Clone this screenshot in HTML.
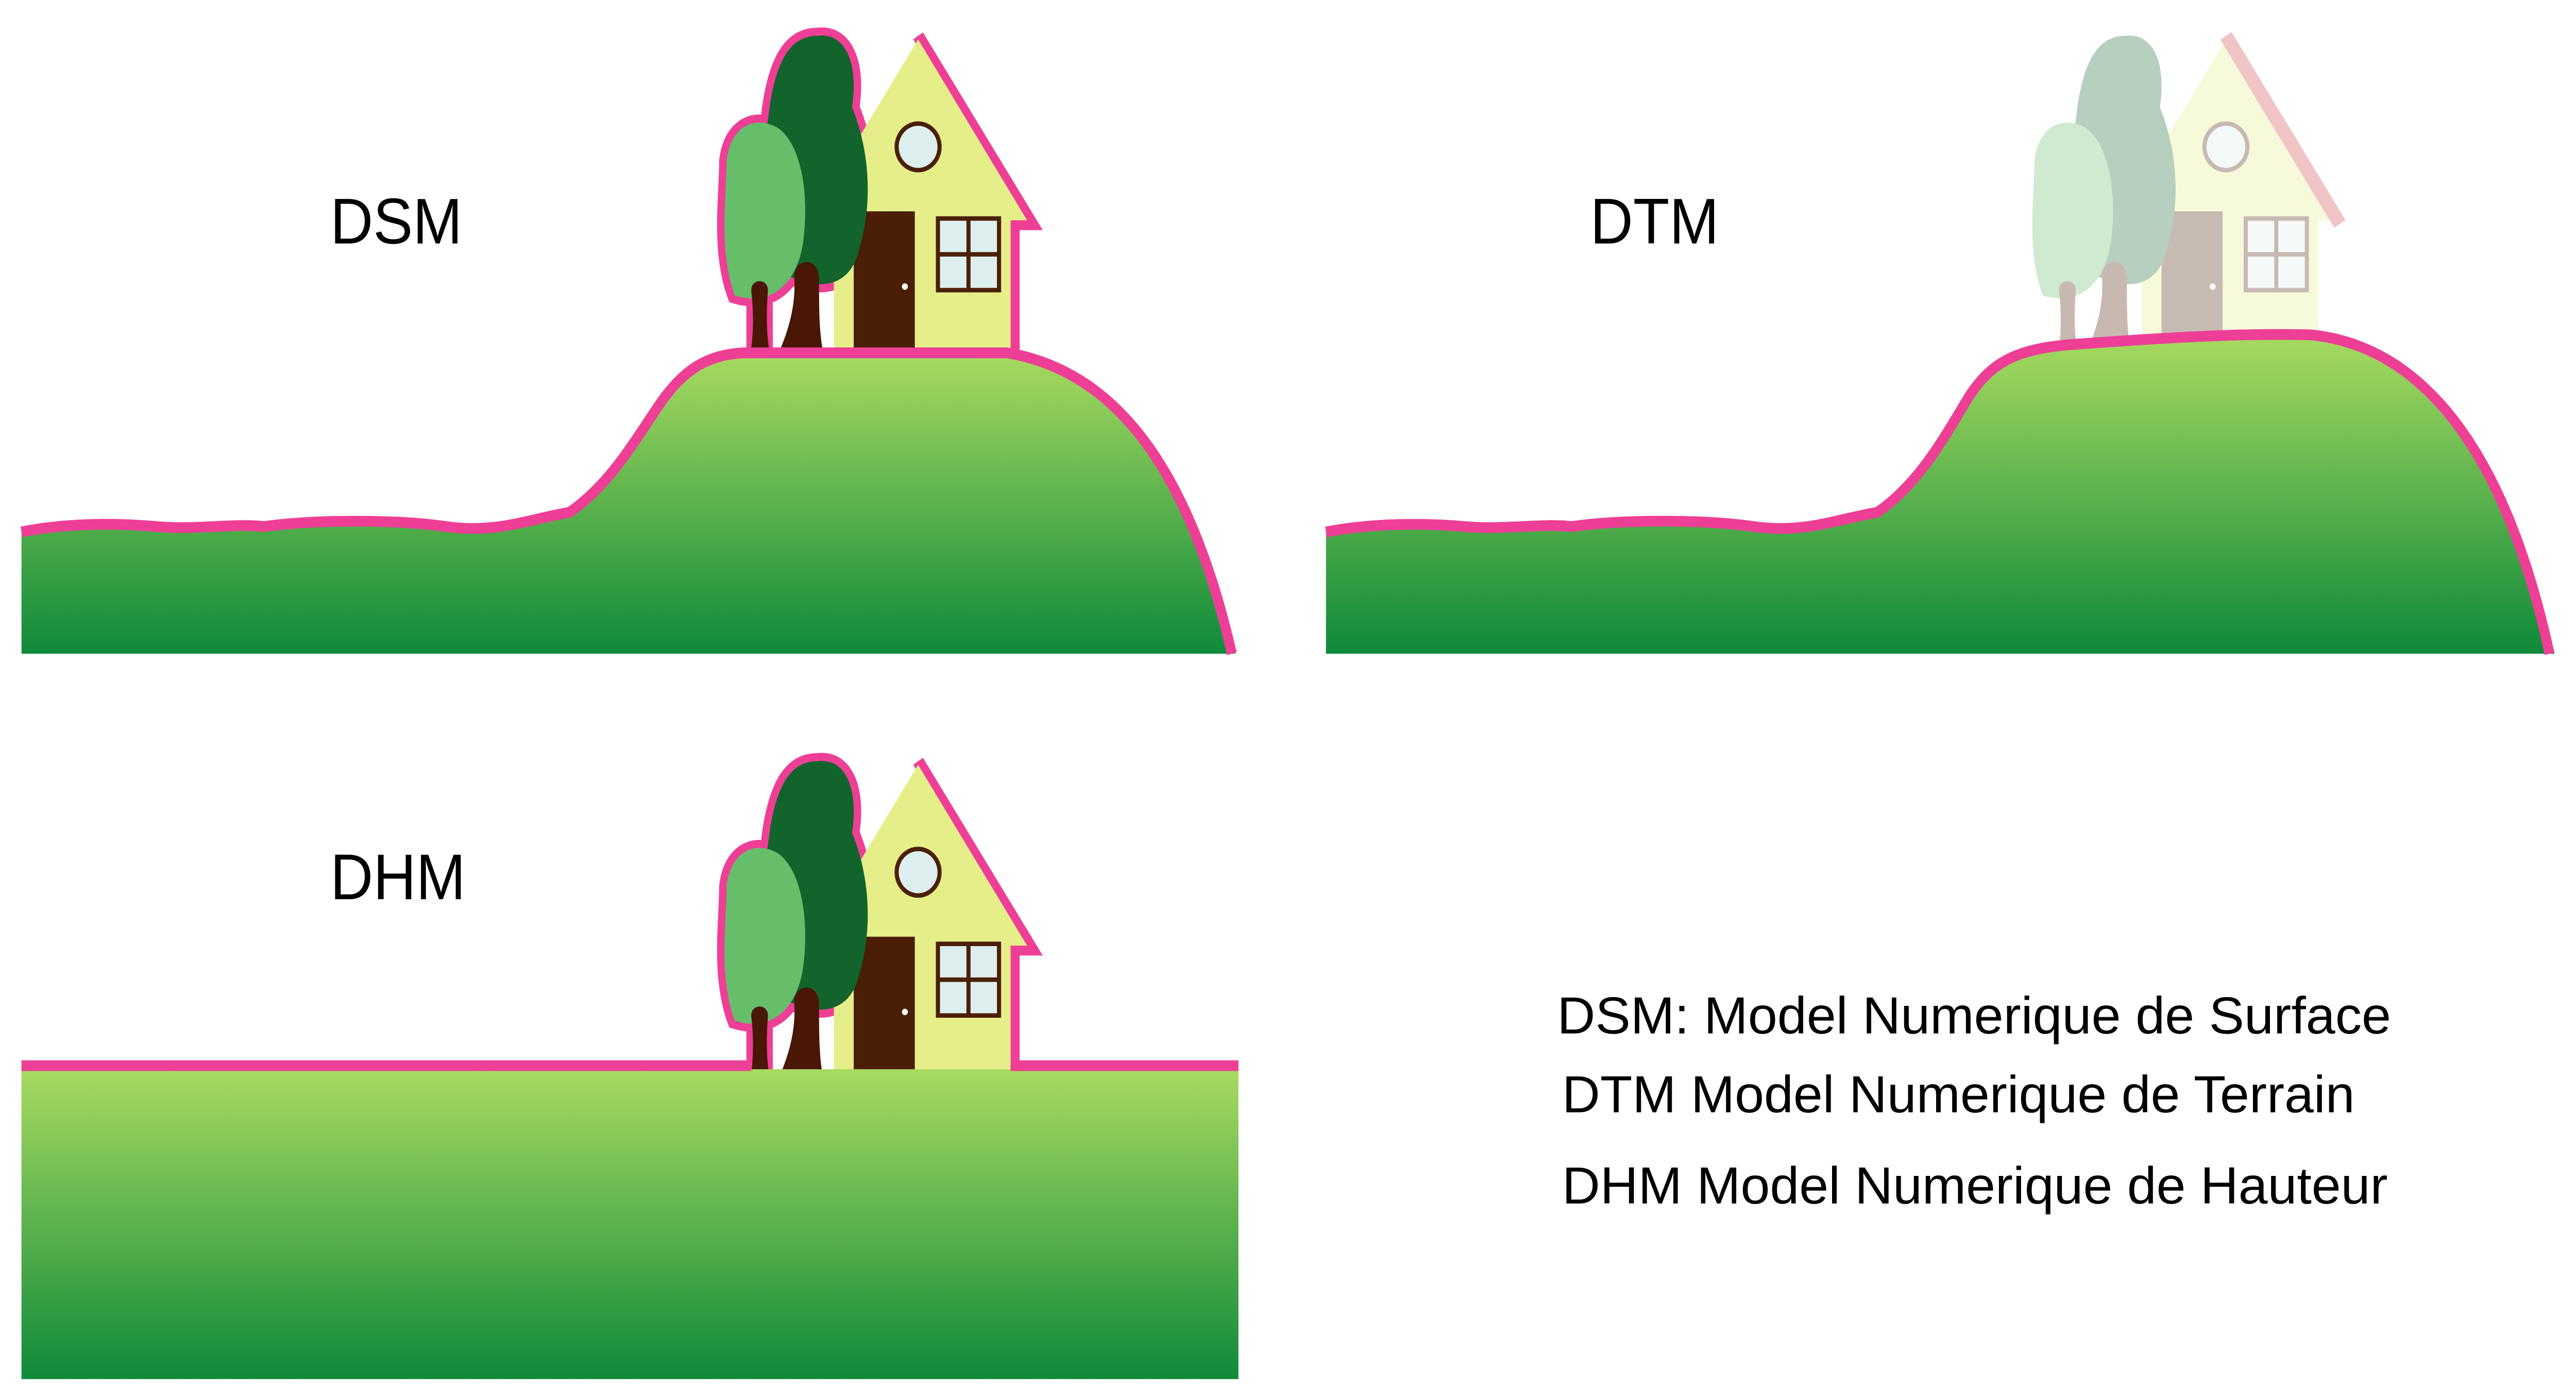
<!DOCTYPE html>
<html><head><meta charset="utf-8"><style>
html,body{margin:0;padding:0;background:#fff;overflow:hidden;width:100%;height:100%;}
svg{display:block;width:100vw;height:100vh;}
text{font-family:"Liberation Sans",sans-serif;fill:#000;}
</style></head><body>
<svg viewBox="0 0 1560 780" preserveAspectRatio="none" xmlns="http://www.w3.org/2000/svg" xmlns:xlink="http://www.w3.org/1999/xlink">
<defs>
<linearGradient id="g1" x1="0" y1="0" x2="0" y2="1">
<stop offset="0" stop-color="#a8da60"/><stop offset="1" stop-color="#0f8a3a"/></linearGradient>
<linearGradient id="g2" x1="0" y1="0" x2="0" y2="1">
<stop offset="0" stop-color="#a8da60"/><stop offset="1" stop-color="#0f8a3a"/></linearGradient>
<g id="outline">
<path d="M470,150 C455,120 462,90 466,60 C470,35 478,20 495,20 C512,18 520,35 516,60 C525,80 530,110 520,140 C515,160 495,165 470,150Z" fill="#ee3f96" stroke="#ee3f96" stroke-width="9"/>
<path d="M445,165 C435,140 440,110 440,90 C442,72 455,65 468,70 C482,75 490,100 487,130 C485,155 470,172 445,165Z" fill="#ee3f96" stroke="#ee3f96" stroke-width="9"/>
<path d="M556,20 L625,125 L614,125 L614,196" fill="none" stroke="#ee3f96" stroke-width="7"/>
<rect x="452" y="160" width="16" height="40" fill="#ee3f96"/>
</g>
<g id="house">
<path d="M556,22 L622,123 L612,123 L612,196 L505,196 L505,100 Z" fill="#e6ee8a"/>
<rect x="517" y="118" width="37" height="78" fill="#4a1f05"/>
<circle cx="548" cy="160" r="1.8" fill="#fff"/>
<circle cx="556" cy="82" r="13" fill="#dceeee" stroke="#4a1f05" stroke-width="2.5"/>
<rect x="568" y="122" width="37" height="40" fill="#dceeee" stroke="#4a1f05" stroke-width="2.5"/>
<line x1="586.5" y1="122" x2="586.5" y2="162" stroke="#4a1f05" stroke-width="2.5"/>
<line x1="568" y1="142" x2="605" y2="142" stroke="#4a1f05" stroke-width="2.5"/>
</g>
<g id="trees">
<path d="M470,150 C455,120 462,90 466,60 C470,35 478,20 495,20 C512,18 520,35 516,60 C525,80 530,110 520,140 C515,160 495,165 470,150Z" fill="#12642c"/>
<path d="M445,165 C435,140 440,110 440,90 C442,72 455,65 468,70 C482,75 490,100 487,130 C485,155 470,172 445,165Z" fill="#66bd6a"/>
<path d="M469,202 C478,185 482,170 481,155 C480,145 495,142 496,155 C496,175 496,190 500,202 Z" fill="#4a1605"/>
<path d="M454,200 C457,185 456,170 455,163 C454,155 466,155 465,163 C464,175 464,190 467,200 Z" fill="#4a1605"/>
</g>
</defs>

<g>
<use xlink:href="#outline"/>
<use xlink:href="#house"/>
<use xlink:href="#trees"/>
<path d="M13,297 C40,292 70,292 95,294 C120,296 140,292 160,294 C190,290 240,290 270,294 C300,298 320,290 345,286 C370,270 385,245 400,225 C415,205 430,198 450,197 L610,197 C660,205 715,240 748,365 L13,365 Z" fill="url(#g1)"/>
<path d="M13,297 C40,292 70,292 95,294 C120,296 140,292 160,294 C190,290 240,290 270,294 C300,298 320,290 345,286 C370,270 385,245 400,225 C415,205 430,198 450,197 L610,197 C660,205 715,240 746,365" fill="none" stroke="#ee3f96" stroke-width="6"/>
<text x="200" y="136" font-size="36">DSM</text>
</g>

<g>
<g transform="translate(792,0)" opacity="0.3"><use xlink:href="#house"/><use xlink:href="#trees"/>
<path d="M556,20 L625,125" stroke="#d4404a" stroke-width="8" fill="none"/></g>
<path d="M803,297 C832,292 862,292 887,294 C912,296 932,292 952,294 C982,290 1032,290 1062,294 C1092,298 1112,290 1137,286 C1162,270 1177,245 1192,222 C1207,200 1225,194 1260,192 C1320,188 1360,186 1400,187 C1452,192 1512,230 1547,365 L803,365 Z" fill="url(#g2)"/>
<path d="M803,297 C832,292 862,292 887,294 C912,296 932,292 952,294 C982,290 1032,290 1062,294 C1092,298 1112,290 1137,286 C1162,270 1177,245 1192,222 C1207,200 1225,194 1260,192 C1320,188 1360,186 1400,187 C1452,192 1512,230 1544,365" fill="none" stroke="#ee3f96" stroke-width="6"/>
<text x="963" y="136" font-size="36">DTM</text>
</g>

<g>
<g transform="translate(0,405)"><use xlink:href="#outline"/><use xlink:href="#house"/><use xlink:href="#trees"/></g>
<rect x="13" y="597" width="737" height="173" fill="url(#g1)"/>
<path d="M13,595 L455,595 M612,595 L750,595" stroke="#ee3f96" stroke-width="6"/>
<text x="200" y="502" font-size="36">DHM</text>
</g>

<g>
<text x="943" y="577" font-size="29" textLength="505" lengthAdjust="spacingAndGlyphs">DSM: Model Numerique de Surface</text>
<text x="946" y="621" font-size="29" textLength="480" lengthAdjust="spacingAndGlyphs">DTM Model Numerique de Terrain</text>
<text x="946" y="672" font-size="29" textLength="500" lengthAdjust="spacingAndGlyphs">DHM Model Numerique de Hauteur</text>
</g>
</svg>
</body></html>
